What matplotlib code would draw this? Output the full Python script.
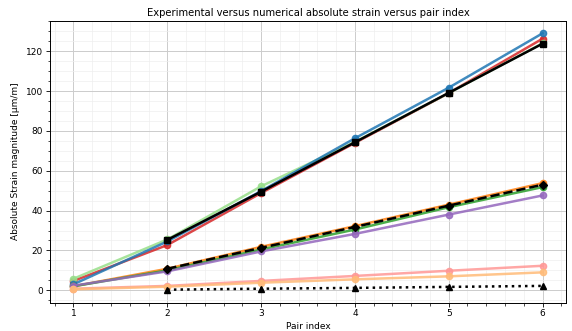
import matplotlib
matplotlib.use("Agg")
import matplotlib.pyplot as plt
from matplotlib.ticker import AutoMinorLocator

pair_index = [1, 2, 3, 4, 5, 6]
exp_index = [2, 3, 4, 5, 6]

# Numerical series (pairs 1-6)
num_red = [4.7, 22.7, 48.8, 74.0, 99.0, 126.3]
num_lightgreen = [5.8, 25.5, 52.2, 74.5, 99.0, 124.0]
num_blue = [3.0, 24.5, 49.8, 76.3, 101.7, 129.0]
num_orange = [2.0, 10.8, 21.8, 32.2, 43.0, 53.8]
num_green = [2.0, 10.0, 20.5, 30.5, 41.7, 51.8]
num_purple = [2.3, 9.5, 19.5, 28.3, 38.0, 47.6]
num_pink = [0.8, 2.2, 4.7, 7.2, 9.8, 12.3]
num_lightorange = [0.5, 1.8, 3.8, 5.5, 7.0, 9.0]

# Experimental series (pairs 2-6)
exp_high = [25.3, 49.5, 74.3, 99.1, 123.8]
exp_mid = [10.8, 21.3, 31.8, 42.5, 53.0]
exp_low = [0.3, 0.8, 1.2, 1.7, 2.2]

fig, ax = plt.subplots(figsize=(5.72, 3.31), dpi=100)

lw = 1.8
ms = 4.5
a = 0.85
ax.plot(pair_index, num_red, "-o", color="#d62728", lw=lw, ms=ms, alpha=a)
ax.plot(pair_index, num_lightgreen, "-o", color="#98df8a", lw=lw, ms=ms, alpha=a)
ax.plot(pair_index, num_blue, "-o", color="#1f77b4", lw=lw, ms=ms, alpha=a)
ax.plot(exp_index, exp_high, "-s", color="black", lw=lw, ms=ms)

ax.plot(pair_index, num_orange, "-o", color="#ff7f0e", lw=lw, ms=ms, alpha=a)
ax.plot(pair_index, num_green, "-o", color="#2ca02c", lw=lw, ms=ms, alpha=a)
ax.plot(pair_index, num_purple, "-o", color="#9467bd", lw=lw, ms=ms, alpha=a)
ax.plot(exp_index, exp_mid, "--D", color="black", lw=lw, ms=ms)

ax.plot(pair_index, num_pink, "-o", color="#ff9896", lw=lw, ms=ms, alpha=a)
ax.plot(pair_index, num_lightorange, "-o", color="#ffbb78", lw=lw, ms=ms, alpha=a)
ax.plot(exp_index, exp_low, ":^", color="black", lw=lw, ms=ms)

ax.xaxis.set_minor_locator(AutoMinorLocator())
ax.yaxis.set_minor_locator(AutoMinorLocator())
ax.grid(which="major", color="#cccccc", lw=0.7)
ax.grid(which="minor", color="#eeeeee", lw=0.5)
ax.set_axisbelow(True)

ax.tick_params(which="major", labelsize=6.5, length=3, width=0.6)
ax.tick_params(which="minor", length=1.8, width=0.5)
ax.tick_params(axis="x", which="major", pad=1.5)
ax.tick_params(axis="y", which="major", pad=2)
for s in ax.spines.values():
    s.set_linewidth(0.7)
ax.set_xlabel("Pair index", fontsize=6.5, labelpad=3)
ax.set_ylabel("Absolute Strain magnitude [µm/m]", fontsize=6.5, labelpad=4)
ax.set_title("Experimental versus numerical absolute strain versus pair index", fontsize=7.2, pad=3)

fig.subplots_adjust(left=50 / 572, right=566 / 572, top=1 - 20.5 / 331, bottom=1 - 302.5 / 331)
fig.savefig("out.png", dpi=100)
